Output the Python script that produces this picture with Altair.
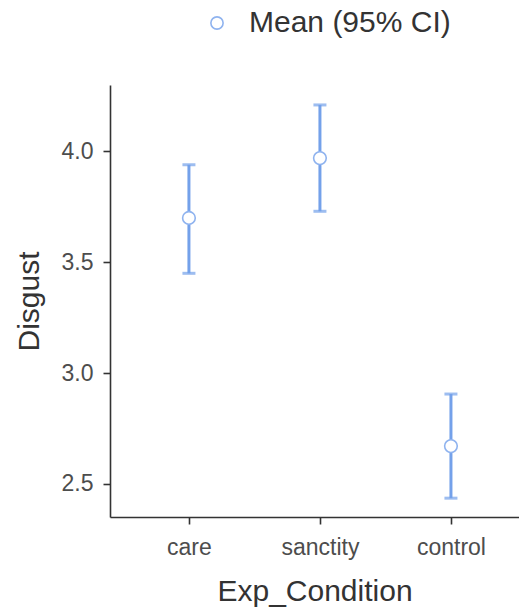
import altair as alt
import pandas as pd

# Mean disgust rating per experimental condition with 95% confidence interval
conditions = ["care", "sanctity", "control"]
means = [3.70, 3.97, 2.67]
ci_lower = [3.45, 3.73, 2.435]
ci_upper = [3.94, 4.21, 2.905]
series_label = "Mean (95% CI)"

df = pd.DataFrame({
    "Exp_Condition": conditions,
    "Disgust": means,
    "lower": ci_lower,
    "upper": ci_upper,
    "series": [series_label] * len(conditions),
})

FONT = "Liberation Sans"
BAR_BLUE = "#74a1ea"
POINT_BLUE = "#8fb3ef"

x_enc = alt.X(
    "Exp_Condition:N",
    sort=conditions,
    scale=alt.Scale(type="point", padding=0.561, align=0.537),
    title="Exp_Condition",
    axis=alt.Axis(labelAngle=0),
)
y_scale = alt.Scale(domain=[2.35, 4.30], nice=False, zero=False)

base = alt.Chart(df)

whisker = base.mark_rule(color=BAR_BLUE, strokeWidth=3).encode(
    x=x_enc,
    y=alt.Y("lower:Q", scale=y_scale, title="Disgust",
            axis=alt.Axis(values=[2.5, 3.0, 3.5, 4.0], format=".1f")),
    y2="upper:Q",
)
cap_low = base.mark_tick(color=BAR_BLUE, orient="horizontal", size=13, thickness=3).encode(
    x=x_enc, y=alt.Y("lower:Q", scale=y_scale)
)
cap_high = base.mark_tick(color=BAR_BLUE, orient="horizontal", size=13, thickness=3).encode(
    x=x_enc, y=alt.Y("upper:Q", scale=y_scale)
)
points = base.mark_point(filled=False, fill="white", fillOpacity=1, size=160, strokeWidth=1.6, opacity=1).encode(
    x=x_enc,
    y=alt.Y("Disgust:Q", scale=y_scale),
    color=alt.Color(
        "series:N",
        scale=alt.Scale(domain=[series_label], range=[POINT_BLUE]),
        legend=alt.Legend(
            title=None,
            orient="none",
            legendX=92,
            legendY=-77,
            symbolType="circle",
            symbolSize=150,
            symbolStrokeWidth=1.6,
            symbolFillColor="white",
            labelFontSize=30,
            labelFont=FONT,
            labelColor="#333333",
            labelOffset=17,
            labelLimit=400,
            padding=0,
        ),
    ),
)

chart = (
    alt.layer(whisker, cap_low, cap_high, points)
    .properties(
        width=409,
        height=432,
        autosize=alt.AutoSizeParams(type="none"),
        padding={"left": 110, "top": 85, "right": 0, "bottom": 95},
    )
    .configure_view(stroke=None)
    .configure_axis(
        grid=False,
        domainColor="#333333",
        domainWidth=1.6,
        tickColor="#333333",
        tickWidth=1.6,
        tickSize=7,
        labelFont=FONT,
        labelFontSize=23,
        labelColor="#4d4d4d",
        titleFont=FONT,
        titleFontSize=30,
        titleFontWeight="normal",
        titleColor="#333333",
    )
    .configure_axisX(labelPadding=12, titlePadding=17)
    .configure_axisY(labelPadding=10, titlePadding=17)
)

chart.save("out.html", embed_options={"renderer": "svg", "actions": False})
